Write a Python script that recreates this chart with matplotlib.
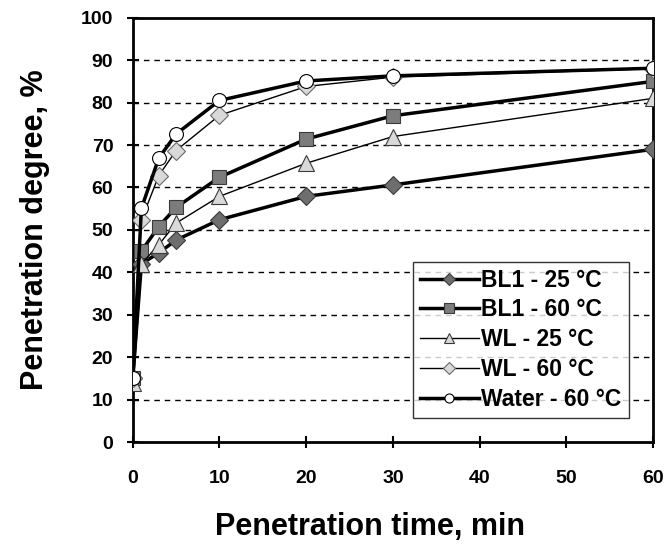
import matplotlib.pyplot as plt

plt.rcParams['font.family'] = ['Liberation Sans', 'DejaVu Sans']
plt.rcParams['font.weight'] = 'bold'

times = [0, 1, 3, 5, 10, 20, 30, 60]

bl1_25 = [15, 42, 44.6, 47.6, 52.4, 57.9, 60.6, 69.0]
bl1_60 = [15, 45, 50.8, 55.3, 62.4, 71.4, 76.9, 85.0]
wl_25 = [14, 42, 46.5, 51.6, 57.9, 65.7, 72.0, 81.0]
wl_60 = [15, 52.3, 62.8, 68.7, 77.0, 83.8, 86.0, 88.0]
water_60 = [15, 55.1, 66.9, 72.6, 80.5, 85.1, 86.3, 88.1]

labels = ['BL1 - 25 \u00b0C', 'BL1 - 60 \u00b0C', 'WL - 25 \u00b0C', 'WL - 60 \u00b0C', 'Water - 60 \u00b0C']

fig = plt.figure(figsize=(6.67, 5.54), dpi=100)
ax = fig.add_axes([0.199, 0.202, 0.78, 0.766])

for y in range(10, 100, 10):
    ax.axhline(y, color='black', lw=1, ls=(0, (4, 3.5)), zorder=1)

ax.plot(times, bl1_25, color='black', lw=2.5, marker='D', ms=9, mfc='#6e6e6e', mec='#3a3a3a', mew=0.8, label=labels[0], zorder=3)
ax.plot(times, bl1_60, color='black', lw=2.5, marker='s', ms=10, mfc='#7c7c7c', mec='#3a3a3a', mew=0.8, label=labels[1], zorder=3)
ax.plot(times, wl_25, color='black', lw=1, marker='^', ms=11, mfc='#d9d9d9', mec='#3a3a3a', mew=0.8, label=labels[2], zorder=3)
ax.plot(times, wl_60, color='black', lw=1, marker='D', ms=9, mfc='#d9d9d9', mec='#6a6a6a', mew=0.8, label=labels[3], zorder=3)
ax.plot(times, water_60, color='black', lw=2.5, marker='o', ms=10, mfc='white', mec='black', mew=0.8, label=labels[4], zorder=4)

ax.set_xlim(0, 60)
ax.set_ylim(0, 100)
ax.set_xticks(range(0, 61, 10))
ax.set_yticks(range(0, 101, 10))
for s in ax.spines.values():
    s.set_linewidth(2)
ax.tick_params(axis='both', direction='inout', length=8, width=1.5, labelsize=14)
for lab in ax.get_xticklabels() + ax.get_yticklabels():
    lab.set_fontweight('bold')
ax.tick_params(axis='x', pad=16)
ax.tick_params(axis='y', pad=10)

ax.set_xlabel('Penetration time, min', fontsize=22, fontweight='bold')
ax.xaxis.set_label_coords(0.457, -0.165)
ax.set_ylabel('Penetration degree, %', fontsize=22, fontweight='bold', labelpad=22)

leg = ax.legend(loc='lower right', bbox_to_anchor=(0.953, 0.057), fontsize=16.5, frameon=True,
                fancybox=False, edgecolor='black', handlelength=2.6, handletextpad=0.1,
                borderpad=0.3, labelspacing=0.3, markerscale=0.65, borderaxespad=0)
leg.get_frame().set_linewidth(1)
for t in leg.get_texts():
    t.set_fontweight('bold')

fig.savefig('out.png', dpi=100)
